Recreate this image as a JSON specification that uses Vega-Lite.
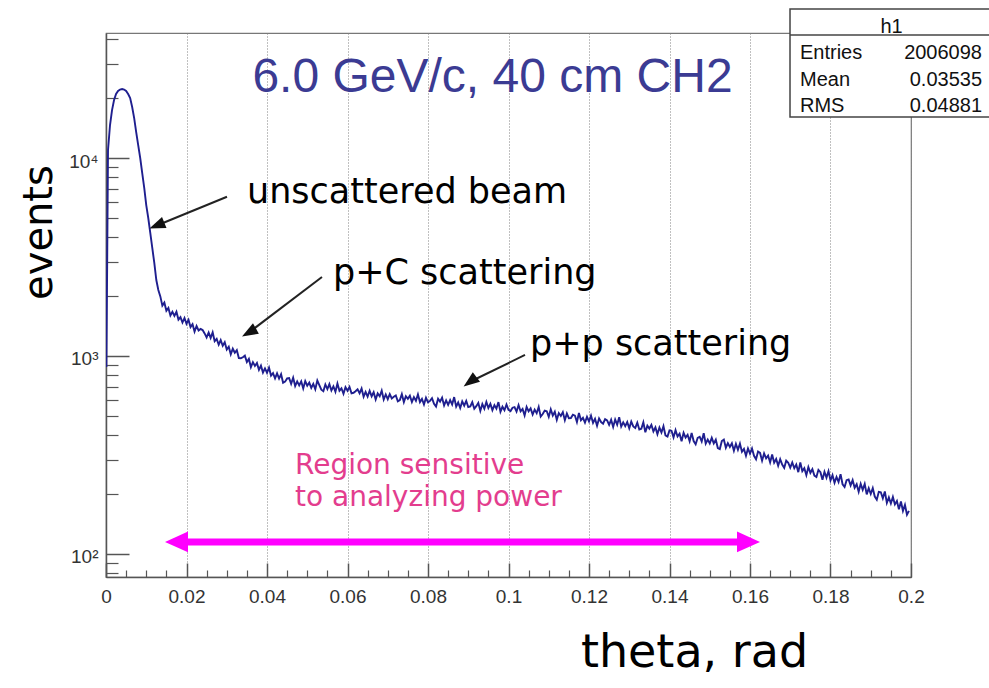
{
  "$schema": "https://vega.github.io/schema/vega-lite/v6.json",
  "width": 805,
  "height": 544,
  "autosize": "none",
  "padding": {"left": 106, "top": 33, "right": 78, "bottom": 111},
  "background": "white",
  "config": {
    "view": {"stroke": "#777", "strokeWidth": 1.2},
    "font": "Liberation Sans"
  },
  "datasets": {
    "hist": [
      {"t":0.0001,"n":880},{"t":0.0005,"n":10975},{"t":0.001,"n":14680},{"t":0.0015,"n":17470},{"t":0.002,"n":19630},
      {"t":0.0025,"n":21050},{"t":0.003,"n":21800},{"t":0.0035,"n":22180},{"t":0.004,"n":22310},{"t":0.0045,"n":22180},
      {"t":0.005,"n":21800},{"t":0.0055,"n":21050},{"t":0.006,"n":20090},{"t":0.0065,"n":18100},{"t":0.007,"n":15920},
      {"t":0.0075,"n":13530},{"t":0.008,"n":11630},{"t":0.0085,"n":10000},{"t":0.009,"n":8400},{"t":0.0095,"n":7056},
      {"t":0.01,"n":5788},{"t":0.0105,"n":4977},{"t":0.011,"n":4181},{"t":0.0115,"n":3512},{"t":0.012,"n":2950},
      {"t":0.0125,"n":2420},{"t":0.013,"n":2154},{"t":0.0135,"n":2000},{"t":0.014,"n":1796},{"t":0.0145,"n":1860},
      {"t":0.015,"n":1693},{"t":0.0155,"n":1749},{"t":0.016,"n":1601},{"t":0.0165,"n":1673},{"t":0.017,"n":1595},
      {"t":0.0175,"n":1672},{"t":0.018,"n":1527},{"t":0.0185,"n":1572},{"t":0.019,"n":1476},{"t":0.0195,"n":1556},
      {"t":0.02,"n":1455},{"t":0.0205,"n":1522},{"t":0.021,"n":1399},{"t":0.0215,"n":1448},{"t":0.022,"n":1329},
      {"t":0.0225,"n":1418},{"t":0.023,"n":1346},{"t":0.0235,"n":1370},{"t":0.024,"n":1352},{"t":0.0245,"n":1300},
      {"t":0.025,"n":1241},{"t":0.0255,"n":1314},{"t":0.026,"n":1234},{"t":0.0265,"n":1315},{"t":0.027,"n":1187},
      {"t":0.0275,"n":1219},{"t":0.028,"n":1140},{"t":0.0285,"n":1203},{"t":0.029,"n":1126},{"t":0.0295,"n":1174},
      {"t":0.03,"n":1077},{"t":0.0305,"n":1114},{"t":0.031,"n":1020},{"t":0.0315,"n":1088},{"t":0.032,"n":1038},
      {"t":0.0325,"n":1071},{"t":0.033,"n":976},{"t":0.0335,"n":975},{"t":0.034,"n":985},{"t":0.0345,"n":1004},
      {"t":0.035,"n":932},{"t":0.0355,"n":966},{"t":0.036,"n":879},{"t":0.0365,"n":931},{"t":0.037,"n":891},
      {"t":0.0375,"n":922},{"t":0.038,"n":852},{"t":0.0385,"n":894},{"t":0.039,"n":825},{"t":0.0395,"n":866},
      {"t":0.04,"n":823},{"t":0.0405,"n":873},{"t":0.041,"n":796},{"t":0.0415,"n":820},{"t":0.042,"n":770},
      {"t":0.0425,"n":817},{"t":0.043,"n":769},{"t":0.0435,"n":809},{"t":0.044,"n":732},{"t":0.0445,"n":742},
      {"t":0.045,"n":770},{"t":0.0455,"n":773},{"t":0.046,"n":723},{"t":0.0465,"n":776},{"t":0.047,"n":705},
      {"t":0.0475,"n":744},{"t":0.048,"n":711},{"t":0.0485,"n":745},{"t":0.049,"n":685},{"t":0.0495,"n":747},
      {"t":0.05,"n":708},{"t":0.0505,"n":734},{"t":0.051,"n":690},{"t":0.0515,"n":723},{"t":0.052,"n":679},
      {"t":0.0525,"n":752},{"t":0.053,"n":712},{"t":0.0535,"n":676},{"t":0.054,"n":664},{"t":0.0545,"n":718},
      {"t":0.055,"n":681},{"t":0.0555,"n":721},{"t":0.056,"n":670},{"t":0.0565,"n":703},{"t":0.057,"n":660},
      {"t":0.0575,"n":726},{"t":0.058,"n":668},{"t":0.0585,"n":687},{"t":0.059,"n":644},{"t":0.0595,"n":696},
      {"t":0.06,"n":667},{"t":0.0605,"n":698},{"t":0.061,"n":648},{"t":0.0615,"n":652},{"t":0.062,"n":664},
      {"t":0.0625,"n":679},{"t":0.063,"n":648},{"t":0.0635,"n":685},{"t":0.064,"n":623},{"t":0.0645,"n":659},
      {"t":0.065,"n":624},{"t":0.0655,"n":667},{"t":0.066,"n":626},{"t":0.0665,"n":656},{"t":0.067,"n":603},
      {"t":0.0675,"n":647},{"t":0.068,"n":626},{"t":0.0685,"n":668},{"t":0.069,"n":603},{"t":0.0695,"n":639},
      {"t":0.07,"n":605},{"t":0.0705,"n":642},{"t":0.071,"n":610},{"t":0.0715,"n":622},{"t":0.072,"n":632},
      {"t":0.0725,"n":590},{"t":0.073,"n":599},{"t":0.0735,"n":642},{"t":0.074,"n":585},{"t":0.0745,"n":627},
      {"t":0.075,"n":608},{"t":0.0755,"n":630},{"t":0.076,"n":586},{"t":0.0765,"n":620},{"t":0.077,"n":594},
      {"t":0.0775,"n":640},{"t":0.078,"n":585},{"t":0.0785,"n":607},{"t":0.079,"n":569},{"t":0.0795,"n":615},
      {"t":0.08,"n":583},{"t":0.0805,"n":593},{"t":0.081,"n":612},{"t":0.0815,"n":574},{"t":0.082,"n":556},
      {"t":0.0825,"n":608},{"t":0.083,"n":588},{"t":0.0835,"n":616},{"t":0.084,"n":563},{"t":0.0845,"n":597},
      {"t":0.085,"n":566},{"t":0.0855,"n":599},{"t":0.086,"n":569},{"t":0.0865,"n":620},{"t":0.087,"n":555},
      {"t":0.0875,"n":582},{"t":0.088,"n":546},{"t":0.0885,"n":590},{"t":0.089,"n":561},{"t":0.0895,"n":593},
      {"t":0.09,"n":552},{"t":0.0905,"n":556},{"t":0.091,"n":584},{"t":0.0915,"n":541},{"t":0.092,"n":558},
      {"t":0.0925,"n":580},{"t":0.093,"n":528},{"t":0.0935,"n":572},{"t":0.094,"n":542},{"t":0.0945,"n":586},
      {"t":0.095,"n":546},{"t":0.0955,"n":573},{"t":0.096,"n":533},{"t":0.0965,"n":565},{"t":0.097,"n":542},
      {"t":0.0975,"n":585},{"t":0.098,"n":523},{"t":0.0985,"n":554},{"t":0.099,"n":532},{"t":0.0995,"n":569},
      {"t":0.1,"n":535},{"t":0.1005,"n":527},{"t":0.101,"n":548},{"t":0.1015,"n":552},{"t":0.102,"n":524},
      {"t":0.1025,"n":565},{"t":0.103,"n":525},{"t":0.1035,"n":540},{"t":0.104,"n":501},{"t":0.1045,"n":553},
      {"t":0.105,"n":525},{"t":0.1055,"n":544},{"t":0.106,"n":506},{"t":0.1065,"n":536},{"t":0.107,"n":514},
      {"t":0.1075,"n":553},{"t":0.108,"n":494},{"t":0.1085,"n":509},{"t":0.109,"n":530},{"t":0.1095,"n":526},
      {"t":0.11,"n":493},{"t":0.1105,"n":538},{"t":0.111,"n":500},{"t":0.1115,"n":523},{"t":0.112,"n":476},
      {"t":0.1125,"n":515},{"t":0.113,"n":498},{"t":0.1135,"n":521},{"t":0.114,"n":474},{"t":0.1145,"n":512},
      {"t":0.115,"n":485},{"t":0.1155,"n":486},{"t":0.116,"n":505},{"t":0.1165,"n":500},{"t":0.117,"n":464},
      {"t":0.1175,"n":515},{"t":0.118,"n":474},{"t":0.1185,"n":487},{"t":0.119,"n":461},{"t":0.1195,"n":493},
      {"t":0.12,"n":467},{"t":0.1205,"n":500},{"t":0.121,"n":460},{"t":0.1215,"n":482},{"t":0.122,"n":444},
      {"t":0.1225,"n":484},{"t":0.123,"n":464},{"t":0.1235,"n":455},{"t":0.124,"n":480},{"t":0.1245,"n":473},
      {"t":0.125,"n":449},{"t":0.1255,"n":476},{"t":0.126,"n":438},{"t":0.1265,"n":478},{"t":0.127,"n":450},
      {"t":0.1275,"n":491},{"t":0.128,"n":440},{"t":0.1285,"n":462},{"t":0.129,"n":442},{"t":0.1295,"n":464},
      {"t":0.13,"n":431},{"t":0.1305,"n":466},{"t":0.131,"n":441},{"t":0.1315,"n":433},{"t":0.132,"n":460},
      {"t":0.1325,"n":425},{"t":0.133,"n":429},{"t":0.1335,"n":462},{"t":0.134,"n":412},{"t":0.1345,"n":445},
      {"t":0.135,"n":430},{"t":0.1355,"n":449},{"t":0.136,"n":416},{"t":0.1365,"n":436},{"t":0.137,"n":403},
      {"t":0.1375,"n":435},{"t":0.138,"n":411},{"t":0.1385,"n":442},{"t":0.139,"n":397},{"t":0.1395,"n":392},
      {"t":0.14,"n":421},{"t":0.1405,"n":419},{"t":0.141,"n":388},{"t":0.1415,"n":422},{"t":0.142,"n":392},
      {"t":0.1425,"n":405},{"t":0.143,"n":371},{"t":0.1435,"n":409},{"t":0.144,"n":387},{"t":0.1445,"n":400},
      {"t":0.145,"n":371},{"t":0.1455,"n":408},{"t":0.146,"n":372},{"t":0.1465,"n":358},{"t":0.147,"n":386},
      {"t":0.1475,"n":391},{"t":0.148,"n":370},{"t":0.1485,"n":407},{"t":0.149,"n":361},{"t":0.1495,"n":378},
      {"t":0.15,"n":362},{"t":0.1505,"n":386},{"t":0.151,"n":362},{"t":0.1515,"n":378},{"t":0.152,"n":343},
      {"t":0.1525,"n":339},{"t":0.153,"n":372},{"t":0.1535,"n":378},{"t":0.154,"n":344},{"t":0.1545,"n":363},
      {"t":0.155,"n":347},{"t":0.1555,"n":362},{"t":0.156,"n":332},{"t":0.1565,"n":360},{"t":0.157,"n":336},
      {"t":0.1575,"n":361},{"t":0.158,"n":328},{"t":0.1585,"n":339},{"t":0.159,"n":313},{"t":0.1595,"n":341},
      {"t":0.16,"n":321},{"t":0.1605,"n":341},{"t":0.161,"n":313},{"t":0.1615,"n":301},{"t":0.162,"n":329},
      {"t":0.1625,"n":324},{"t":0.163,"n":296},{"t":0.1635,"n":322},{"t":0.164,"n":304},{"t":0.1645,"n":314},
      {"t":0.165,"n":290},{"t":0.1655,"n":318},{"t":0.166,"n":289},{"t":0.1665,"n":302},{"t":0.167,"n":279},
      {"t":0.1675,"n":301},{"t":0.168,"n":283},{"t":0.1685,"n":272},{"t":0.169,"n":296},{"t":0.1695,"n":289},
      {"t":0.17,"n":273},{"t":0.1705,"n":290},{"t":0.171,"n":271},{"t":0.1715,"n":283},{"t":0.172,"n":259},
      {"t":0.1725,"n":290},{"t":0.173,"n":262},{"t":0.1735,"n":271},{"t":0.174,"n":250},{"t":0.1745,"n":275},
      {"t":0.175,"n":257},{"t":0.1755,"n":268},{"t":0.176,"n":249},{"t":0.1765,"n":245},{"t":0.177,"n":266},
      {"t":0.1775,"n":259},{"t":0.178,"n":237},{"t":0.1785,"n":260},{"t":0.179,"n":243},{"t":0.1795,"n":262},
      {"t":0.18,"n":235},{"t":0.1805,"n":250},{"t":0.181,"n":229},{"t":0.1815,"n":245},{"t":0.182,"n":231},
      {"t":0.1825,"n":253},{"t":0.183,"n":225},{"t":0.1835,"n":218},{"t":0.184,"n":236},{"t":0.1845,"n":238},
      {"t":0.185,"n":222},{"t":0.1855,"n":236},{"t":0.186,"n":216},{"t":0.1865,"n":225},{"t":0.187,"n":206},
      {"t":0.1875,"n":226},{"t":0.188,"n":211},{"t":0.1885,"n":226},{"t":0.189,"n":200},{"t":0.1895,"n":215},
      {"t":0.19,"n":201},{"t":0.1905,"n":215},{"t":0.191,"n":195},{"t":0.1915,"n":188},{"t":0.192,"n":206},
      {"t":0.1925,"n":205},{"t":0.193,"n":191},{"t":0.1935,"n":207},{"t":0.194,"n":181},{"t":0.1945,"n":193},
      {"t":0.195,"n":180},{"t":0.1955,"n":194},{"t":0.196,"n":178},{"t":0.1965,"n":185},{"t":0.197,"n":168},
      {"t":0.1975,"n":184},{"t":0.198,"n":165},{"t":0.1985,"n":177},{"t":0.199,"n":158},{"t":0.1995,"n":165}
    ],
    "arrows": [
      {"label": "unscattered beam", "t0": 0.03006, "n0": 6376, "t1": 0.01263, "n1": 4564},
      {"label": "p+C scattering", "t0": 0.05366, "n0": 2506, "t1": 0.03552, "n1": 1315},
      {"label": "p+p scattering", "t0": 0.1041, "n0": 1012, "t1": 0.09044, "n1": 741}
    ],
    "labels": [
      {"label": "unscattered beam", "t": 0.03503, "n": 5925},
      {"label": "p+C scattering", "t": 0.0564, "n": 2310},
      {"label": "p+p scattering", "t": 0.10534, "n": 1012}
    ],
    "region": [
      {"t0": 0.01752, "t1": 0.15963, "n": 115}
    ],
    "regionEnds": [
      {"end": "left", "t": 0.01752, "n": 115},
      {"end": "right", "t": 0.15963, "n": 115}
    ],
    "regionText": [
      {"line": "Region sensitive", "t": 0.04696, "n": 253.6},
      {"line": "to analyzing power", "t": 0.04696, "n": 174.7}
    ],
    "heading": [
      {"text": "6.0 GeV/c, 40 cm CH2", "t": 0.09602, "n": 21544}
    ],
    "statsBox": [
      {"t0": 0.16994, "t1": 0.2205, "n0": 56560, "n1": 16110, "nDiv": 41806}
    ],
    "statsName": [
      {"text": "h1", "t": 0.19516, "n": 42790}
    ],
    "stats": [
      {"key": "Entries", "value": "2006098", "tk": 0.17242, "tv": 0.21764, "n": 31623},
      {"key": "Mean", "value": "0.03535", "tk": 0.17242, "tv": 0.21764, "n": 23101},
      {"key": "RMS", "value": "0.04881", "tk": 0.17242, "tv": 0.21764, "n": 17173}
    ]
  },
  "resolve": {"axis": {"x": "independent", "y": "independent"}},
  "layer": [
    {
      "data": {"name": "hist"},
      "mark": {"type": "line", "color": "#1f1f8f", "strokeWidth": 1.9, "clip": true},
      "encoding": {
        "x": {
          "field": "t", "type": "quantitative",
          "scale": {"domain": [0, 0.2], "nice": false, "zero": false},
          "axis": {
            "orient": "bottom",
            "values": [0, 0.02, 0.04, 0.06, 0.08, 0.1, 0.12, 0.14, 0.16, 0.18, 0.2],
            "format": ".2~f",
            "grid": true, "gridDash": [1, 2], "gridColor": "#808080", "gridWidth": 1,
            "tickSize": -14, "tickColor": "#555", "tickWidth": 1.5,
            "domainColor": "#555", "domainWidth": 1.5,
            "labelPadding": 24, "labelFont": "Liberation Sans", "labelFontSize": 19, "labelColor": "#333",
            "labelFlush": false, "labelOverlap": false,
            "title": "theta, rad", "titleFont": "DejaVu Sans", "titleFontSize": 46, "titleFontWeight": "normal",
            "titleColor": "#000", "titleX": 588, "titleY": 89, "titleAlign": "center", "titleBaseline": "alphabetic"
          }
        },
        "y": {
          "field": "n", "type": "quantitative",
          "scale": {"type": "log", "domain": [76.5, 42800], "nice": false},
          "axis": {
            "orient": "left",
            "values": [100, 1000, 10000],
            "labelExpr": "datum.value == 100 ? '10²' : datum.value == 1000 ? '10³' : '10⁴'",
            "grid": false,
            "tickSize": -23, "tickColor": "#555", "tickWidth": 1.5,
            "domainColor": "#555", "domainWidth": 1.5,
            "labelPadding": 31, "labelFont": "Liberation Sans", "labelFontSize": 19, "labelColor": "#333",
            "labelBaseline": "middle", "labelOffset": 3, "labelOverlap": false,
            "title": "events", "titleFont": "DejaVu Sans", "titleFontSize": 40, "titleFontWeight": "normal",
            "titleColor": "#000", "titleAngle": -90, "titleX": -55, "titleY": 199,
            "titleAlign": "center", "titleBaseline": "alphabetic"
          }
        }
      }
    },
    {
      "data": {"name": "region"},
      "mark": {"type": "rule", "color": "#ff00ff", "strokeWidth": 7, "clip": false},
      "encoding": {
        "x": {
          "field": "t0", "type": "quantitative",
          "axis": {
            "orient": "bottom",
            "values": [0.005, 0.01, 0.015, 0.025, 0.03, 0.035, 0.045, 0.05, 0.055, 0.065, 0.07, 0.075, 0.085, 0.09, 0.095, 0.105, 0.11, 0.115, 0.125, 0.13, 0.135, 0.145, 0.15, 0.155, 0.165, 0.17, 0.175, 0.185, 0.19, 0.195],
            "labels": false, "grid": false, "domain": false,
            "tickSize": -7, "tickColor": "#555", "tickWidth": 1.2, "title": null
          }
        },
        "x2": {"field": "t1"},
        "y": {
          "field": "n", "type": "quantitative",
          "axis": {
            "orient": "left",
            "values": [80, 90, 200, 300, 400, 500, 600, 700, 800, 900, 2000, 3000, 4000, 5000, 6000, 7000, 8000, 9000, 20000, 30000, 40000],
            "labels": false, "grid": false, "domain": false,
            "tickSize": -12, "tickColor": "#555", "tickWidth": 1.2, "title": null
          }
        }
      }
    },
    {
      "data": {"name": "regionEnds"},
      "mark": {"type": "point", "filled": true, "color": "#ff00ff", "opacity": 1, "size": 529, "strokeWidth": 0, "clip": false},
      "encoding": {
        "x": {"field": "t", "type": "quantitative", "axis": null},
        "y": {"field": "n", "type": "quantitative", "axis": null},
        "shape": {
          "field": "end", "type": "nominal", "legend": null,
          "scale": {"domain": ["left", "right"], "range": ["M-1,0L1,-0.9L1,0.9Z", "M1,0L-1,-0.9L-1,0.9Z"]}
        }
      }
    },
    {
      "data": {"name": "regionText"},
      "mark": {"type": "text", "font": "DejaVu Sans", "fontSize": 28, "color": "#e33d8e", "align": "left", "baseline": "alphabetic", "clip": false},
      "encoding": {
        "x": {"field": "t", "type": "quantitative", "axis": null},
        "y": {"field": "n", "type": "quantitative", "axis": null},
        "text": {"field": "line"}
      }
    },
    {
      "data": {"name": "arrows"},
      "mark": {"type": "rule", "color": "#222", "strokeWidth": 2, "clip": false},
      "encoding": {
        "x": {"field": "t0", "type": "quantitative", "axis": null},
        "x2": {"field": "t1"},
        "y": {"field": "n0", "type": "quantitative", "axis": null},
        "y2": {"field": "n1"}
      }
    },
    {
      "data": {"name": "arrows"},
      "mark": {"type": "point", "filled": true, "color": "#111", "opacity": 1, "size": 256, "strokeWidth": 0, "shape": "M0,-1L0.75,1L-0.75,1Z", "clip": false},
      "encoding": {
        "x": {"field": "t1", "type": "quantitative", "axis": null},
        "y": {"field": "n1", "type": "quantitative", "axis": null},
        "angle": {
          "field": "label", "type": "nominal", "legend": null,
          "scale": {"domain": ["unscattered beam", "p+C scattering", "p+p scattering"], "range": [248, 233, 244]}
        }
      }
    },
    {
      "data": {"name": "labels"},
      "mark": {"type": "text", "font": "DejaVu Sans", "fontSize": 35, "color": "#000", "align": "left", "baseline": "alphabetic", "clip": false},
      "encoding": {
        "x": {"field": "t", "type": "quantitative", "axis": null},
        "y": {"field": "n", "type": "quantitative", "axis": null},
        "text": {"field": "label"}
      }
    },
    {
      "data": {"name": "heading"},
      "mark": {"type": "text", "font": "Liberation Sans", "fontSize": 48, "color": "#3b3b93", "align": "center", "baseline": "alphabetic", "clip": false},
      "encoding": {
        "x": {"field": "t", "type": "quantitative", "axis": null},
        "y": {"field": "n", "type": "quantitative", "axis": null},
        "text": {"field": "text"}
      }
    },
    {
      "data": {"name": "statsBox"},
      "mark": {"type": "rect", "fill": "white", "stroke": "#444", "strokeWidth": 1.5, "clip": false},
      "encoding": {
        "x": {"field": "t0", "type": "quantitative", "axis": null},
        "x2": {"field": "t1"},
        "y": {"field": "n0", "type": "quantitative", "axis": null},
        "y2": {"field": "n1"}
      }
    },
    {
      "data": {"name": "statsBox"},
      "mark": {"type": "rule", "color": "#444", "strokeWidth": 1.5, "clip": false},
      "encoding": {
        "x": {"field": "t0", "type": "quantitative", "axis": null},
        "x2": {"field": "t1"},
        "y": {"field": "nDiv", "type": "quantitative", "axis": null}
      }
    },
    {
      "data": {"name": "statsName"},
      "mark": {"type": "text", "font": "Liberation Sans", "fontSize": 20, "color": "#111", "align": "center", "baseline": "alphabetic", "clip": false},
      "encoding": {
        "x": {"field": "t", "type": "quantitative", "axis": null},
        "y": {"field": "n", "type": "quantitative", "axis": null},
        "text": {"field": "text"}
      }
    },
    {
      "data": {"name": "stats"},
      "mark": {"type": "text", "font": "Liberation Sans", "fontSize": 20, "color": "#111", "align": "left", "baseline": "alphabetic", "clip": false},
      "encoding": {
        "x": {"field": "tk", "type": "quantitative", "axis": null},
        "y": {"field": "n", "type": "quantitative", "axis": null},
        "text": {"field": "key"}
      }
    },
    {
      "data": {"name": "stats"},
      "mark": {"type": "text", "font": "Liberation Sans", "fontSize": 20, "color": "#111", "align": "right", "baseline": "alphabetic", "clip": false},
      "encoding": {
        "x": {"field": "tv", "type": "quantitative", "axis": null},
        "y": {"field": "n", "type": "quantitative", "axis": null},
        "text": {"field": "value"}
      }
    }
  ]
}
